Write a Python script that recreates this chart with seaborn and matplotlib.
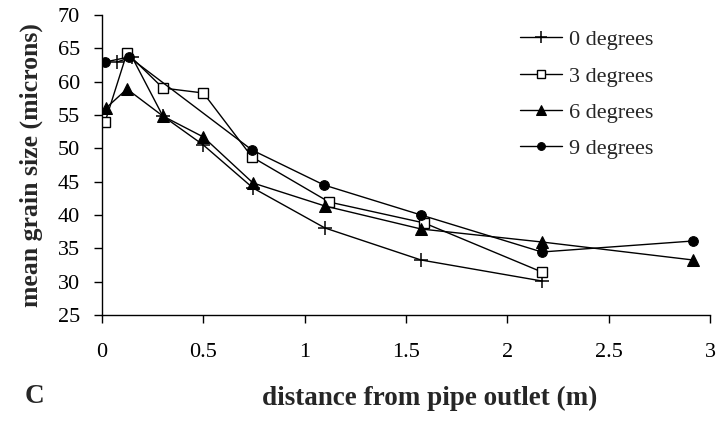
import matplotlib
matplotlib.use("Agg")
import matplotlib.pyplot as plt
import seaborn as sns
import pandas as pd

# distance from pipe outlet (m) and mean grain size (microns) per inclination
x_0deg = [0.074, 0.148, 0.30, 0.50, 0.745, 1.10, 1.574, 2.17]
y_0deg = [62.95, 63.7, 54.85, 50.5, 44.05, 38.05, 33.25, 30.1]

x_3deg = [0.015, 0.123, 0.30, 0.50, 0.74, 1.12, 1.59, 2.17]
y_3deg = [53.95, 64.3, 59.05, 58.3, 48.7, 41.95, 38.8, 31.45]

x_6deg = [0.02, 0.123, 0.30, 0.50, 0.745, 1.10, 1.574, 2.17, 2.916]
y_6deg = [56.05, 58.9, 54.85, 51.7, 44.8, 41.35, 37.9, 35.95, 33.25]

x_9deg = [0.015, 0.133, 0.74, 1.095, 1.574, 2.17, 2.916]
y_9deg = [62.95, 63.7, 49.75, 44.5, 40.0, 34.45, 36.1]

labels = ["0 degrees", "3 degrees", "6 degrees", "9 degrees"]
x_ticks = [0, 0.5, 1, 1.5, 2, 2.5, 3]
x_tick_labels = ["0", "0.5", "1", "1.5", "2", "2.5", "3"]
y_ticks = [25, 30, 35, 40, 45, 50, 55, 60, 65, 70]

sns.set_style("ticks")
plt.rcParams["font.family"] = ["Liberation Serif", "DejaVu Serif"]

fig = plt.figure(figsize=(7.23, 4.24), dpi=100)
ax = fig.add_axes([0.1411, 0.2571, 0.841, 0.7075])

series = [
    (x_0deg, y_0deg, dict(marker="+", markersize=10, markeredgewidth=1.1,
                          markeredgecolor="black")),
    (x_3deg, y_3deg, dict(marker="s", markersize=7, markerfacecolor="white",
                          markeredgecolor="black", markeredgewidth=1.0)),
    (x_6deg, y_6deg, dict(marker="^", markersize=8.5, markerfacecolor="black",
                          markeredgecolor="black")),
    (x_9deg, y_9deg, dict(marker="o", markersize=7, markerfacecolor="black",
                          markeredgecolor="black")),
]

for (xs, ys, style), lab in zip(series, labels):
    df = pd.DataFrame({"distance": xs, "grain": ys})
    sns.lineplot(data=df, x="distance", y="grain", ax=ax, color="black",
                 linewidth=1.0, sort=False, label=lab, **style)

ax.set_xlim(0, 3)
ax.set_ylim(25, 70)
ax.set_xticks(x_ticks)
ax.set_xticklabels(x_tick_labels)
ax.set_yticks(y_ticks)
ax.tick_params(axis="both", direction="out", length=6, width=1.0,
               labelsize=16, colors="black")
ax.tick_params(axis="x", pad=14)
ax.tick_params(axis="y", pad=10)
for side in ["top", "right"]:
    ax.spines[side].set_visible(False)
for side in ["left", "bottom"]:
    ax.spines[side].set_linewidth(1.0)
    ax.spines[side].set_color("black")

ax.set_xlabel("")
ax.set_ylabel("mean grain size (microns)", fontsize=18.5, fontweight="bold")
ax.yaxis.set_label_coords(-0.097, 0.5)
fig.text(0.595, 0.061, "distance from pipe outlet (m)", ha="center", va="center",
         fontsize=19.5, fontweight="bold")
fig.text(0.048, 0.066, "C", ha="center", va="center", fontsize=19.5, fontweight="bold")

ax.legend(loc="upper left", bbox_to_anchor=(0.719, 0.93), bbox_transform=fig.transFigure,
          frameon=False, fontsize=16, handlelength=1.9, labelspacing=0.71,
          handletextpad=0.3, borderpad=0, borderaxespad=0, markerscale=0.8)

fig.savefig("out.png", dpi=100)
